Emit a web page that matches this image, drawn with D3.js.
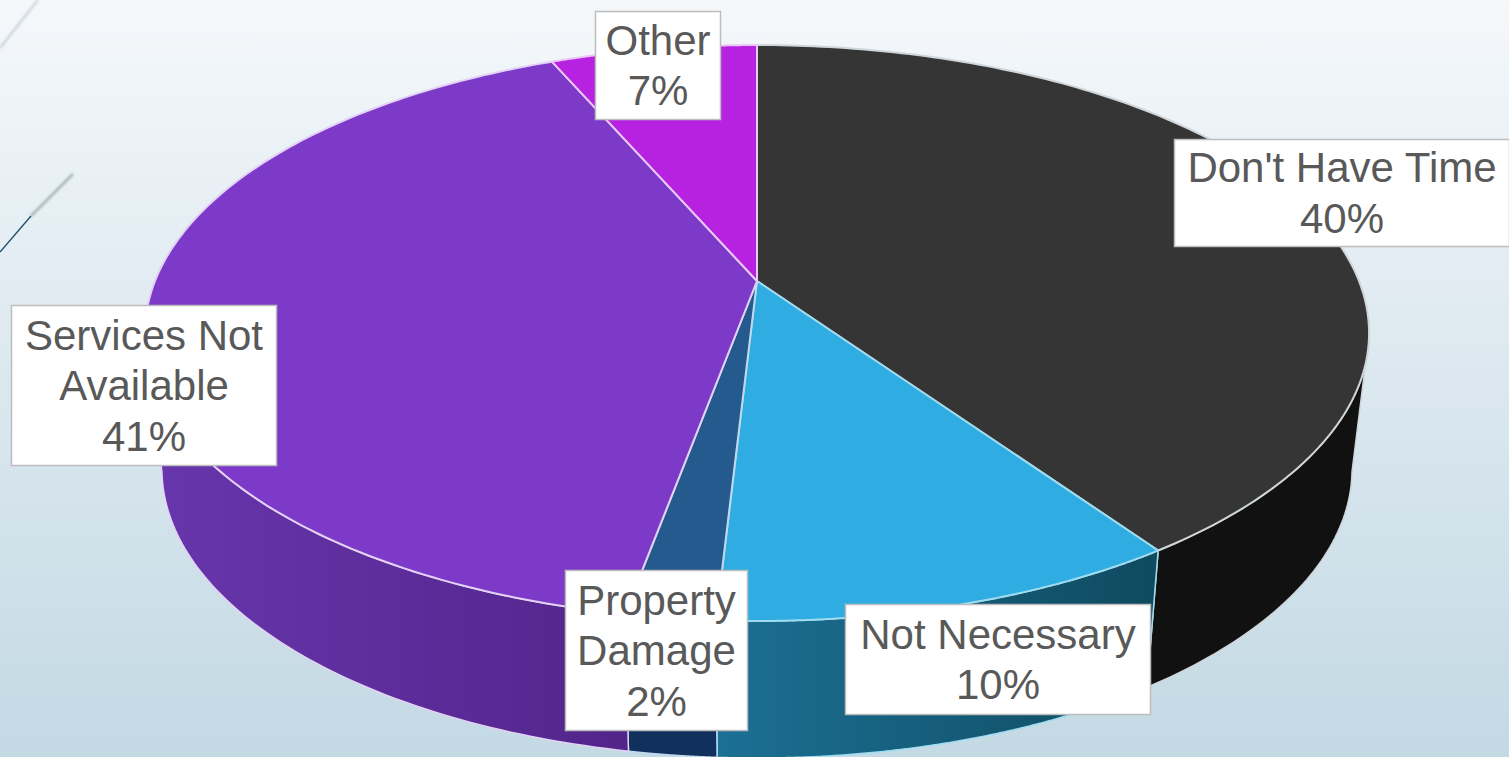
<!DOCTYPE html>
<html><head><meta charset="utf-8">
<style>html,body{margin:0;padding:0;overflow:hidden}svg{display:block}
text{font-family:"Liberation Sans";font-size:42px;fill:#595959;text-anchor:middle}</style>
<script src="https://cdnjs.cloudflare.com/ajax/libs/d3/7.8.5/d3.min.js"></script>
</head><body><svg id="c" width="1509" height="757"></svg>
<script>
const categories=["Don't Have Time","Not Necessary","Property Damage","Services Not Available","Other"];
const values=[40.4,10.49,2.0,40.61,6.5];
const topColors=["#353535","#2fade3","#255a8f","#7d3ac8","#b722e0"];
const wallFrom=["#111111","#1c7095","#12305e","#6836ad","#8a1aa8"];
const wallTo=["#111111","#0f4a5f","#12305e","#52258a","#8a1aa8"];
const rimColors=["#cfd6da","#9fdcf0","#c0d8ee","#e3d2f5","#e9c9f5"];
const labelLines=[["Don't Have Time","40%"],["Not Necessary","10%"],["Property","Damage","2%"],["Services Not","Available","41%"],["Other","7%"]];
const labelBoxes=[[1174,139,335,107],[845,604,305,110],[565,570,182,160],[11,305,265,160],[595,11,125,108]];

const svg=d3.select("#c");
const defs=svg.append("defs");
const bg=defs.append("linearGradient").attr("id","bg").attr("x1",0).attr("y1",0).attr("x2",0).attr("y2",1);
[[0,"#f5f8fb"],[.37,"#e2ecf2"],[1,"#c3d9e4"]].forEach(s=>bg.append("stop").attr("offset",s[0]).attr("stop-color",s[1]));
svg.append("rect").attr("width",1509).attr("height",757).attr("fill","url(#bg)");
defs.append("filter").attr("id","soft").append("feGaussianBlur").attr("stdDeviation",1);
svg.append("path").attr("d","M0 48 L38 0").attr("stroke","#cdd5da").attr("fill","none").attr("stroke-width",2.5).attr("filter","url(#soft)");
svg.append("path").attr("d","M31 216 L73 174").attr("stroke","#a9b2b8").attr("fill","none").attr("stroke-width",2.5).attr("filter","url(#soft)");
svg.append("path").attr("d","M0 252 L31 216").attr("stroke","#1f5372").attr("fill","none").attr("stroke-width",1.4);

// perspective of the pie: apex and rim are related by a projective map
const apex={x:757,y:281}, topE={x:757,y:333,rx:612,ry:288}, botE={x:757,y:469,rx:595,ry:289};
const c=0.1806,k=278.6,d0=602;
const rimTop=a=>{const u=Math.sin(a),v=Math.cos(a),w=1+c*v;return [apex.x+d0*u/w,apex.y-k*v/w];};
const norm=p=>[(p[0]-topE.x)/topE.rx,(p[1]-topE.y)/topE.ry];
const rimBot=a=>{const n=norm(rimTop(a));return [botE.x+botE.rx*n[0],botE.y+botE.ry*n[1]];};

const pie=d3.pie().sort(null).value(d=>d)(values);
const line=d3.line();
const N=160;
// walls
pie.forEach((d,i)=>{
  const as=d3.range(N+1).map(j=>d.startAngle+(d.endAngle-d.startAngle)*j/N).filter(a=>norm(rimTop(a))[1]>=0);
  if(as.length<2) return;
  const tp=as.map(rimTop), bp=as.map(rimBot).reverse();
  const xs=tp.concat(bp).map(p=>p[0]);
  const g=defs.append("linearGradient").attr("id","w"+i).attr("gradientUnits","userSpaceOnUse")
    .attr("x1",d3.min(xs)).attr("x2",d3.max(xs)).attr("y1",0).attr("y2",0);
  g.append("stop").attr("offset",0).attr("stop-color",wallFrom[i]);
  g.append("stop").attr("offset",1).attr("stop-color",wallTo[i]);
  svg.append("path").attr("d",line(tp.concat(bp))+"Z").attr("fill",`url(#w${i})`)
    .attr("stroke",rimColors[i]).attr("stroke-width",1.5).attr("stroke-linejoin","round");
});
// top face
pie.forEach((d,i)=>{
  const pts=[[apex.x,apex.y]].concat(d3.range(N+1).map(j=>rimTop(d.startAngle+(d.endAngle-d.startAngle)*j/N)));
  svg.append("path").attr("d",line(pts)+"Z").attr("fill",topColors[i])
    .attr("stroke",rimColors[i]).attr("stroke-width",2).attr("stroke-linejoin","round");
});
// labels
labelLines.forEach((lines,i)=>{
  const [x,y,w,h]=labelBoxes[i];
  svg.append("rect").attr("x",x+.5).attr("y",y+.5).attr("width",w).attr("height",h)
    .attr("fill","#fff").attr("stroke","#bdbdbd").attr("stroke-width",1.5);
  const lh=50.5,total=lh*lines.length;
  lines.forEach((t,j)=>{
    svg.append("text").attr("x",x+w/2+.5).attr("y",y+h/2-total/2+lh*j+lh/2+15).text(t);
  });
});
</script></body></html>
